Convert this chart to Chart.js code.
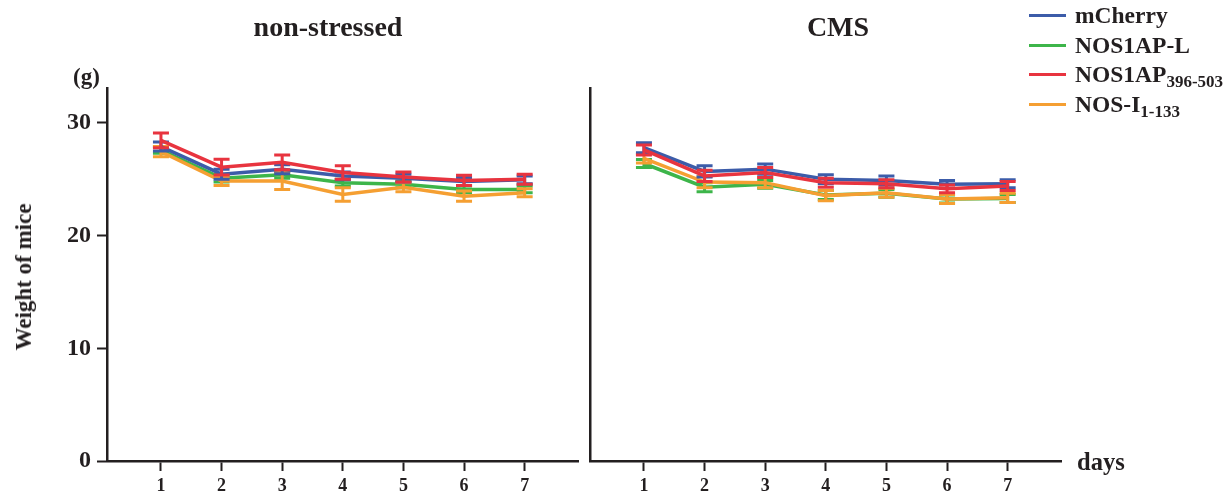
<!DOCTYPE html>
<html>
<head>
<meta charset="utf-8">
<script src="https://cdn.jsdelivr.net/npm/chart.js@4.4.1/dist/chart.umd.min.js"></script>
<style>
  body { margin: 0; background: #fff; }
  #wrap { position: relative; width: 1231px; height: 494px; overflow: hidden; font-family: "Liberation Serif", "DejaVu Serif", serif; font-weight: bold; color: #231f20; }
  .panel { position: absolute; top: 0; height: 494px; }
  .txt { position: absolute; white-space: nowrap; }
  .title { font-size: 28px; top: 11px; transform: translateX(-50%); }
  #legend { position: absolute; left: 1029px; top: 0; }
  .row { position: absolute; left: 0; height: 30px; display: flex; align-items: center; white-space: nowrap; font-size: 23.5px; }
  .row .sw { display: inline-block; width: 37px; height: 3px; margin-right: 9px; }
  .row sub { font-size: 17px; vertical-align: -5px; line-height: 0; }
</style>
</head>
<body>
<div id="wrap">
  <div class="panel" style="left:0;width:590px"><canvas id="left"></canvas></div>
  <div class="panel" style="left:570px;width:510px"><canvas id="right"></canvas></div>

  <div class="txt title" style="left:328px">non-stressed</div>
  <div class="txt title" style="left:838px">CMS</div>
  <div class="txt" style="left:73px;top:64px;font-size:23px">(g)</div>
  <div class="txt" style="left:24px;top:277px;font-size:23px;transform:translate(-50%,-50%) rotate(-90deg)">Weight of mice</div>
  <div class="txt" style="left:1077px;top:448px;font-size:24.5px">days</div>

  <div id="legend">
    <div class="row" style="top:0px"><span class="sw" style="background:#3c5ca9"></span><span>mCherry</span></div>
    <div class="row" style="top:30px"><span class="sw" style="background:#3db54a"></span><span>NOS1AP-L</span></div>
    <div class="row" style="top:59px"><span class="sw" style="background:#e8343f"></span><span>NOS1AP<sub>396-503</sub></span></div>
    <div class="row" style="top:89px"><span class="sw" style="background:#f59f32"></span><span>NOS-I<sub>1-133</sub></span></div>
  </div>
</div>
<script>
// days on the x axis, weight ticks on the y axis
var days = [1, 2, 3, 4, 5, 6, 7];
var yTicks = [0, 10, 20, 30];

// non-stressed group (mean, error)
var nsCherry    = [27.9, 25.45, 25.9, 25.3, 25.1, 24.8, 24.95];
var nsCherryErr = [0.4, 0.45, 0.4, 0.35, 0.35, 0.35, 0.35];
var nsL         = [27.6, 25.1, 25.4, 24.7, 24.55, 24.1, 24.1];
var nsLErr      = [0.3, 0.35, 0.3, 0.3, 0.3, 0.3, 0.3];
var ns396       = [28.45, 26.07, 26.5, 25.6, 25.2, 24.9, 25.0];
var ns396Err    = [0.65, 0.7, 0.65, 0.6, 0.45, 0.45, 0.45];
var nsI         = [27.45, 24.85, 24.85, 23.65, 24.3, 23.5, 23.8];
var nsIErr      = [0.45, 0.4, 0.75, 0.6, 0.4, 0.45, 0.35];

// CMS group (mean, error)
var cmsCherry    = [27.8, 25.7, 25.9, 25.0, 24.9, 24.55, 24.6];
var cmsCherryErr = [0.45, 0.5, 0.45, 0.4, 0.4, 0.35, 0.35];
var cmsL         = [26.4, 24.3, 24.55, 23.6, 23.75, 23.25, 23.3];
var cmsLErr      = [0.35, 0.4, 0.35, 0.4, 0.35, 0.35, 0.35];
var cms396       = [27.6, 25.3, 25.6, 24.7, 24.6, 24.15, 24.4];
var cms396Err    = [0.45, 0.5, 0.45, 0.4, 0.35, 0.35, 0.4];
var cmsI         = [26.85, 24.75, 24.7, 23.55, 23.8, 23.25, 23.35];
var cmsIErr      = [0.4, 0.5, 0.45, 0.45, 0.4, 0.4, 0.4];

var names = ["mCherry", "NOS1AP-L", "NOS1AP396-503", "NOS-I1-133"];
var colors = ["#3c5ca9", "#3db54a", "#e8343f", "#f59f32"];
var drawOrder = [1, 3, 0, 2];

// error bar whiskers with caps, drawn right after each line
var errorBars = {
  id: 'errorBars',
  afterDatasetDraw: function(chart, args) {
    var ds = chart.data.datasets[args.index];
    if (!ds.err) return;
    var xs = chart.scales.x, ys = chart.scales.y, ctx = chart.ctx;
    ctx.save();
    ctx.strokeStyle = ds.borderColor;
    ctx.lineWidth = 3;
    ds.data.forEach(function(p, i) {
      var px = xs.getPixelForValue(p.x);
      var top = ys.getPixelForValue(p.y + ds.err[i]);
      var bot = ys.getPixelForValue(p.y - ds.err[i]);
      ctx.beginPath();
      ctx.moveTo(px, top); ctx.lineTo(px, bot);
      ctx.moveTo(px - 8, top); ctx.lineTo(px + 8, top);
      ctx.moveTo(px - 8, bot); ctx.lineTo(px + 8, bot);
      ctx.stroke();
    });
    ctx.restore();
  }
};

function makeSets(means, errs) {
  return means.map(function(m, k) {
    return {
      label: names[k],
      data: days.map(function(d, i) { return { x: d, y: m[i] }; }),
      err: errs[k],
      borderColor: colors[k],
      borderWidth: 3.5,
      pointRadius: 0,
      tension: 0,
      order: drawOrder[k]
    };
  });
}

function makeChart(id, sets, showY, yWidth, padRight) {
  var tickFont = { family: "'Liberation Serif', serif", weight: 'bold' };
  return new Chart(document.getElementById(id), {
    type: 'line',
    data: { datasets: sets },
    plugins: [errorBars],
    options: {
      responsive: true,
      maintainAspectRatio: false,
      animation: false,
      layout: { padding: { top: 88, right: padRight, left: 0, bottom: 0 } },
      plugins: { legend: { display: false }, tooltip: { enabled: false } },
      scales: {
        x: {
          type: 'linear', min: 0.11, max: 7.88,
          afterBuildTicks: function(s) { s.ticks = days.map(function(v) { return { value: v }; }); },
          afterFit: function(s) { s.height = 33; },
          border: { display: true, color: '#231f20', width: 2.5 },
          grid: { drawOnChartArea: false, drawTicks: true, tickLength: 10, tickWidth: 2, tickColor: '#231f20' },
          ticks: { color: '#231f20', padding: 5, maxRotation: 0, font: Object.assign({ size: 18 }, tickFont) }
        },
        y: {
          min: 0, max: 33.1,
          afterBuildTicks: function(s) { s.ticks = yTicks.map(function(v) { return { value: v }; }); },
          afterFit: function(s) { s.width = yWidth; },
          border: { display: true, color: '#231f20', width: 2.5 },
          grid: { display: showY, drawOnChartArea: false, drawTicks: true, tickLength: 10, tickWidth: 2, tickColor: '#231f20' },
          ticks: { display: showY, color: '#231f20', padding: 6, font: Object.assign({ size: 24 }, tickFont) }
        }
      }
    }
  });
}

makeChart('left',
  makeSets([nsCherry, nsL, ns396, nsI], [nsCherryErr, nsLErr, ns396Err, nsIErr]),
  true, 107, 12);
makeChart('right',
  makeSets([cmsCherry, cmsL, cms396, cmsI], [cmsCherryErr, cmsLErr, cms396Err, cmsIErr]),
  false, 20, 19);
</script>
</body>
</html>
